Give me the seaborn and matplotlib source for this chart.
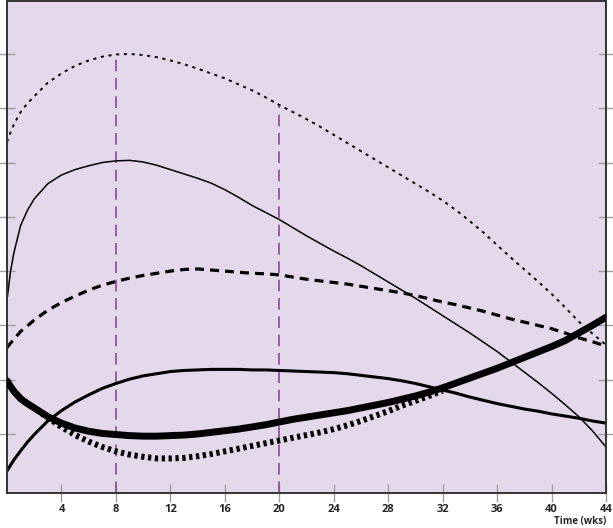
import numpy as np
import pandas as pd
import seaborn as sns
import matplotlib.pyplot as plt

# shared time grid (weeks)
weeks = [0, 0.25, 0.5, 1, 1.5, 2, 3, 4, 5, 6, 7, 8, 9, 10, 11, 12, 13, 14, 15, 16,
         17, 18, 19, 20, 21, 22, 23, 24, 25, 26, 27, 28, 29, 30, 31, 32, 33, 34, 35, 36,
         37, 38, 39, 40, 41, 42, 43, 44]

thin_dotted = [6.38, 6.55, 6.70, 6.93, 7.09, 7.22, 7.47, 7.64, 7.78, 7.88, 7.95, 7.99, 8.00, 7.98, 7.94, 7.88,
               7.81, 7.73, 7.64, 7.55, 7.44, 7.33, 7.20, 7.06, 6.93, 6.80, 6.66, 6.51, 6.36, 6.21, 6.06, 5.91,
               5.76, 5.61, 5.46, 5.30, 5.12, 4.92, 4.71, 4.48, 4.25, 4.03, 3.81, 3.58, 3.33, 3.07, 2.85, 2.64]
thin_solid = [3.47, 3.98, 4.33, 4.84, 5.12, 5.33, 5.61, 5.77, 5.87, 5.94, 6.00, 6.03, 6.04, 6.01, 5.95, 5.87,
              5.79, 5.71, 5.62, 5.50, 5.36, 5.21, 5.08, 4.95, 4.80, 4.65, 4.51, 4.37, 4.24, 4.10, 3.95, 3.80,
              3.65, 3.50, 3.34, 3.18, 3.02, 2.86, 2.69, 2.52, 2.33, 2.14, 1.95, 1.75, 1.54, 1.32, 1.06, 0.76]
thick_dashed = [2.59, 2.67, 2.74, 2.89, 2.99, 3.10, 3.28, 3.42, 3.54, 3.65, 3.74, 3.81, 3.87, 3.92, 3.96, 4.00,
                4.03, 4.04, 4.02, 4.00, 3.98, 3.96, 3.95, 3.93, 3.89, 3.85, 3.82, 3.79, 3.76, 3.72, 3.68, 3.64,
                3.60, 3.55, 3.49, 3.43, 3.38, 3.32, 3.26, 3.19, 3.12, 3.06, 3.00, 2.94, 2.86, 2.77, 2.70, 2.62]
medium_solid = [0.32, 0.42, 0.52, 0.69, 0.85, 0.99, 1.24, 1.43, 1.59, 1.72, 1.84, 1.93, 2.01, 2.07, 2.11, 2.15,
                2.17, 2.18, 2.19, 2.19, 2.19, 2.18, 2.18, 2.17, 2.16, 2.15, 2.14, 2.13, 2.11, 2.08, 2.05, 2.02,
                1.98, 1.93, 1.87, 1.81, 1.75, 1.68, 1.62, 1.56, 1.51, 1.46, 1.42, 1.37, 1.33, 1.29, 1.24, 1.20]
heavy_solid = [1.98, 1.88, 1.79, 1.65, 1.56, 1.48, 1.32, 1.20, 1.11, 1.05, 1.01, 0.99, 0.97, 0.96, 0.96, 0.97,
               0.98, 1.00, 1.03, 1.06, 1.09, 1.13, 1.17, 1.22, 1.27, 1.31, 1.35, 1.39, 1.43, 1.48, 1.53, 1.58,
               1.64, 1.70, 1.77, 1.85, 1.94, 2.03, 2.12, 2.21, 2.31, 2.41, 2.51, 2.61, 2.72, 2.86, 3.00, 3.15]

# heavy dotted series only runs up to where it merges with the heavy solid one
dotted_weeks = [0, 0.25, 0.5, 1, 1.5, 2, 3, 4, 5, 6, 7, 8, 9, 10, 11, 12, 13, 14, 15, 16,
                17, 18, 19, 20, 21, 22, 23, 24, 25, 26, 27, 28, 29, 30, 31, 32]
heavy_dotted = [1.98, 1.88, 1.79, 1.65, 1.56, 1.48, 1.30, 1.13, 0.98, 0.86, 0.76, 0.68, 0.62, 0.58, 0.55, 0.55,
                0.56, 0.59, 0.63, 0.68, 0.73, 0.78, 0.83, 0.88, 0.93, 0.98, 1.03, 1.09, 1.16, 1.24, 1.33, 1.42,
                1.52, 1.61, 1.70, 1.80]

marker_weeks = [8, 20]
x_ticks = [4, 8, 12, 16, 20, 24, 28, 32, 36, 40, 44]
y_ticks = [1, 2, 3, 4, 5, 6, 7, 8]

sns.set_style('ticks')
plt.rcParams['font.family'] = ['Open Sans', 'DejaVu Sans']

fig = plt.figure(figsize=(6.13, 5.28), dpi=100)
ax = fig.add_axes([7 / 613, 35 / 528, 599 / 613, 492 / 528])
ax.set_facecolor('#e4d9ea')

y_low, y_high = -0.087, 8.975

# purple reference lines, from the bottom up to the top curve
top_curve = dict(zip(weeks, thin_dotted))
ax.vlines(
    marker_weeks,
    ymin = y_low,
    ymax = [top_curve[w] for w in marker_weeks],
    colors = '#8a4a98',
    linewidth = 1.2,
    linestyles = (0, (7, 4)),
    zorder = 1
)

sns.lineplot(x = weeks, y = thin_dotted, ax = ax, color = 'black', linewidth = 1.4,
             linestyle = (0, (1.6, 2.4)), errorbar = None, zorder = 2)
sns.lineplot(x = weeks, y = thin_solid, ax = ax, color = 'black', linewidth = 1.1,
             errorbar = None, zorder = 2)
sns.lineplot(x = weeks, y = thick_dashed, ax = ax, color = 'black', linewidth = 2.3,
             linestyle = (0, (2.8, 1.9)), errorbar = None, zorder = 2)
sns.lineplot(x = weeks, y = medium_solid, ax = ax, color = 'black', linewidth = 2.2,
             errorbar = None, zorder = 2)
sns.lineplot(x = dotted_weeks, y = heavy_dotted, ax = ax, color = 'black', linewidth = 4.3,
             linestyle = (0, (0.55, 0.6)), errorbar = None, zorder = 3)
sns.lineplot(x = weeks, y = heavy_solid, ax = ax, color = 'black', linewidth = 5,
             errorbar = None, zorder = 4)

ax.set_xlim(0, 44)
ax.set_ylim(y_low, y_high)
ax.set_xticks(x_ticks)
ax.set_xticklabels([str(t) for t in x_ticks], fontsize = 8, fontweight = 'bold')
ax.set_yticks(y_ticks)
ax.set_yticklabels([])

ax.tick_params(axis = 'x', direction = 'inout', length = 13, width = 1, color = '#a0a0a0', pad = 1.5)
ax.tick_params(axis = 'y', direction = 'inout', length = 11, width = 1, color = '#a0a0a0',
               left = True, right = True)

for side in ['left', 'right', 'top', 'bottom']:
    ax.spines[side].set_visible(True)
    ax.spines[side].set_color('#333333')
    ax.spines[side].set_linewidth(1.4)

ax.set_xlabel('Time (wks)', loc = 'right', fontsize = 7, fontweight = 'bold', labelpad = 0.5)
ax.set_ylabel('')

fig.savefig('out.png', dpi = 100)
